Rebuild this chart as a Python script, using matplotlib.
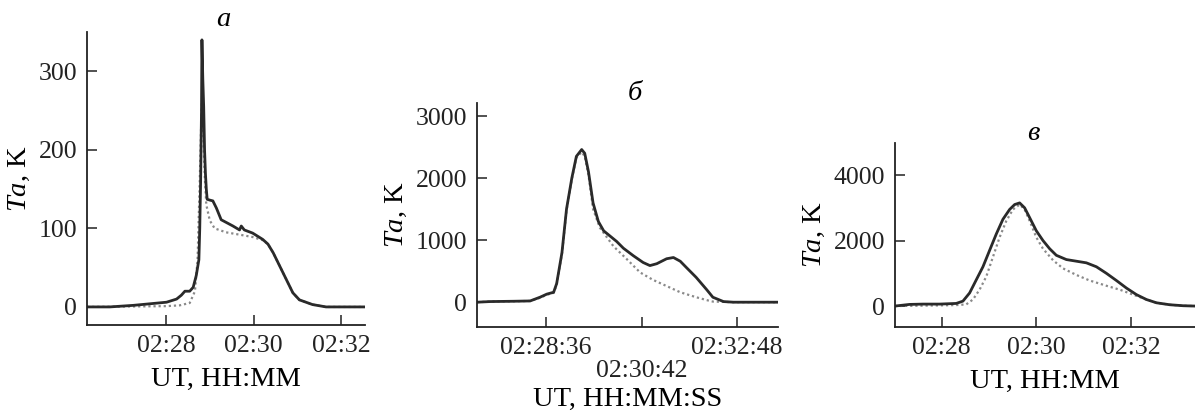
import matplotlib
matplotlib.use("Agg")
import matplotlib.pyplot as plt
from matplotlib.ticker import FixedLocator, FuncFormatter

plt.rcParams['font.family'] = ['Liberation Serif', 'DejaVu Serif']
plt.rcParams['mathtext.fontset'] = 'custom'
plt.rcParams['mathtext.it'] = 'Liberation Serif:italic'
plt.rcParams['mathtext.rm'] = 'Liberation Serif'
FS = 18.5
LFS = 20.5

# ---------------- Panel а (minutes after 02:00) ----------------
a_t_solid = [26.19, 26.71, 27.25, 27.63, 28.01, 28.24, 28.35, 28.43, 28.54, 28.62, 28.69,
             28.75, 28.77, 28.79, 28.81, 28.82, 28.84, 28.86, 28.88, 28.90, 28.92, 28.94,
             29.00, 29.07, 29.15, 29.26, 29.53, 29.68, 29.72, 29.79, 29.98, 30.21, 30.33,
             30.45, 30.60, 30.75, 30.90, 31.05, 31.35, 31.66, 32.53]
a_v_solid = [0, 0, 2, 4, 6, 10, 15, 20, 20, 25, 40,
             60, 100, 160, 250, 340, 290, 255, 200, 170, 150, 137,
             136, 135, 126, 111, 103, 98, 103, 98, 94, 86, 80,
             69, 52, 35, 18, 9, 3, 0, 0]
a_t_dot = [26.19, 28.01, 28.31, 28.54, 28.66, 28.72, 28.77, 28.81, 28.83, 28.86, 28.89,
           28.92, 29.00, 29.11, 29.37, 29.68, 29.98, 30.21, 30.33, 30.45, 30.60, 30.75,
           30.90, 31.05, 31.35, 31.66, 32.53]
a_v_dot = [0, 1, 2, 5, 20, 60, 160, 250, 270, 200, 160,
           130, 110, 100, 95, 92, 89, 85, 80, 69, 52, 35,
           18, 9, 3, 0, 0]

# ---------------- Panel б (seconds after 02:00:00) ----------------
b_t_solid = [1625, 1642, 1673, 1695, 1708, 1717, 1726, 1730, 1737, 1743, 1750, 1756,
             1763, 1767, 1772, 1778, 1785, 1792, 1800, 1809, 1818, 1831, 1844, 1853,
             1862, 1875, 1884, 1893, 1901, 1914, 1928, 1936, 1950, 1963, 2022]
b_v_solid = [0, 10, 15, 20, 80, 130, 160, 300, 800, 1500, 2000, 2350,
             2460, 2400, 2100, 1600, 1300, 1150, 1070, 980, 870, 750, 640, 590,
             620, 700, 720, 660, 560, 400, 200, 80, 10, 0, 0]
b_t_dot = [1625, 1642, 1673, 1695, 1708, 1717, 1726, 1730, 1737, 1743, 1750, 1756,
           1763, 1767, 1772, 1778, 1787, 1805, 1822, 1840, 1857, 1875, 1893, 1914,
           1932, 1936, 1950, 1963, 2022]
b_v_dot = [0, 10, 15, 20, 70, 120, 150, 280, 780, 1480, 1980, 2330,
           2420, 2350, 2050, 1500, 1200, 900, 700, 480, 360, 260, 160, 80,
           20, 10, 5, 0, 0]

# ---------------- Panel в (minutes after 02:00) ----------------
c_t_solid = [27.016, 27.325, 27.606, 27.958, 28.309, 28.450, 28.591, 28.731, 28.872,
             29.012, 29.153, 29.293, 29.434, 29.540, 29.645, 29.750, 29.856, 29.996,
             30.137, 30.278, 30.418, 30.629, 30.840, 31.051, 31.262, 31.473, 31.684,
             31.895, 32.105, 32.316, 32.527, 32.808, 33.090, 33.336]
c_v_solid = [0, 50, 60, 60, 80, 150, 400, 800, 1200,
             1700, 2200, 2650, 2950, 3100, 3150, 3000, 2700, 2300,
             2000, 1750, 1550, 1420, 1370, 1320, 1200, 1000, 780,
             550, 350, 200, 100, 40, 10, 0]
c_t_dot = [27.016, 27.958, 28.309, 28.520, 28.661, 28.801, 28.942, 29.083, 29.223,
           29.364, 29.504, 29.645, 29.750, 29.856, 29.996, 30.137, 30.348, 30.559,
           30.840, 31.121, 31.473, 31.754, 32.035, 32.316, 32.527, 32.808, 33.090, 33.336]
c_v_dot = [0, 20, 30, 50, 200, 500, 900, 1500, 2100,
           2600, 2950, 3100, 2950, 2600, 2100, 1750, 1400, 1150,
           950, 780, 620, 500, 350, 200, 100, 40, 10, 0]

titles = ['а', 'б', 'в']
fig = plt.figure(figsize=(11.95, 4.13), dpi=100)

def hhmm(v, pos=None):
    m = int(round(v))
    return f"02:{m:02d}"

def hhmmss(v, pos=None):
    s = int(round(v))
    return f"02:{(s // 60) % 60:02d}:{s % 60:02d}"

def style(ax):
    for sp in ['top', 'right']:
        ax.spines[sp].set_visible(False)
    for sp in ['left', 'bottom']:
        ax.spines[sp].set_linewidth(1.3)
        ax.spines[sp].set_color('#222222')
    ax.tick_params(direction='in', length=7.5, width=1.1, labelsize=FS, pad=7,
                   colors='#222222', labelcolor='#222222')

solid_kw = dict(color='#2a2a2a', lw=2.0)
dot_kw = dict(color='#8a8a8a', lw=1.6, ls=(0, (1, 1.3)))

# Panel а
ax1 = fig.add_axes([0.0728, 0.2131, 0.2326, 0.7094])
ax1.plot(a_t_dot, a_v_dot, **dot_kw)
ax1.plot(a_t_solid, a_v_solid, **solid_kw)
ax1.set_xlim(26.19, 32.55)
ax1.set_ylim(-23, 350)
ax1.xaxis.set_major_locator(FixedLocator([28, 30, 32]))
ax1.xaxis.set_major_formatter(FuncFormatter(hhmm))
ax1.yaxis.set_major_locator(FixedLocator([0, 100, 200, 300]))
style(ax1)
ax1.set_ylabel(r'$\mathit{Ta}$, K', fontsize=LFS, labelpad=5)
ax1.set_xlabel('UT, HH:MM', fontsize=LFS, labelpad=7)
fig.text(223 / 1195, 1 - 20 / 413, titles[0], fontsize=LFS, style='italic', ha='center', va='center')

# Panel б
ax2 = fig.add_axes([0.3992, 0.2082, 0.2519, 0.5424])
ax2.plot(b_t_dot, b_v_dot, **dot_kw)
ax2.plot(b_t_solid, b_v_solid, **solid_kw)
ax2.set_xlim(1625, 2022)
ax2.set_ylim(-400, 3210)
ax2.xaxis.set_major_locator(FixedLocator([1716, 1842, 1968]))
ax2.xaxis.set_major_formatter(FuncFormatter(
    lambda v, p: ("\n" + hhmmss(v)) if p == 1 else hhmmss(v)))
ax2.yaxis.set_major_locator(FixedLocator([0, 1000, 2000, 3000]))
style(ax2)
for lbl in ax2.get_xticklabels():
    lbl.set_linespacing(1.05)
ax2.set_ylabel(r'$\mathit{Ta}$, K', fontsize=LFS, labelpad=5)
ax2.set_xlabel('UT, HH:MM:SS', fontsize=LFS, labelpad=4)
fig.text(635 / 1195, 1 - 93 / 413, titles[1], fontsize=LFS, style='italic', ha='center', va='center')

# Panel в
ax3 = fig.add_axes([0.7490, 0.2082, 0.2510, 0.4456])
ax3.plot(c_t_dot, c_v_dot, **dot_kw)
ax3.plot(c_t_solid, c_v_solid, **solid_kw)
ax3.set_xlim(27.02, 33.34)
ax3.set_ylim(-640, 4980)
ax3.xaxis.set_major_locator(FixedLocator([28, 30, 32]))
ax3.xaxis.set_major_formatter(FuncFormatter(hhmm))
ax3.yaxis.set_major_locator(FixedLocator([0, 2000, 4000]))
style(ax3)
ax3.set_ylabel(r'$\mathit{Ta}$, K', fontsize=LFS, labelpad=5)
ax3.set_xlabel('UT, HH:MM', fontsize=LFS, labelpad=7)
fig.text(1033 / 1195, 1 - 133 / 413, titles[2], fontsize=LFS, style='italic', ha='center', va='center')

fig.savefig('out.png', dpi=100)
